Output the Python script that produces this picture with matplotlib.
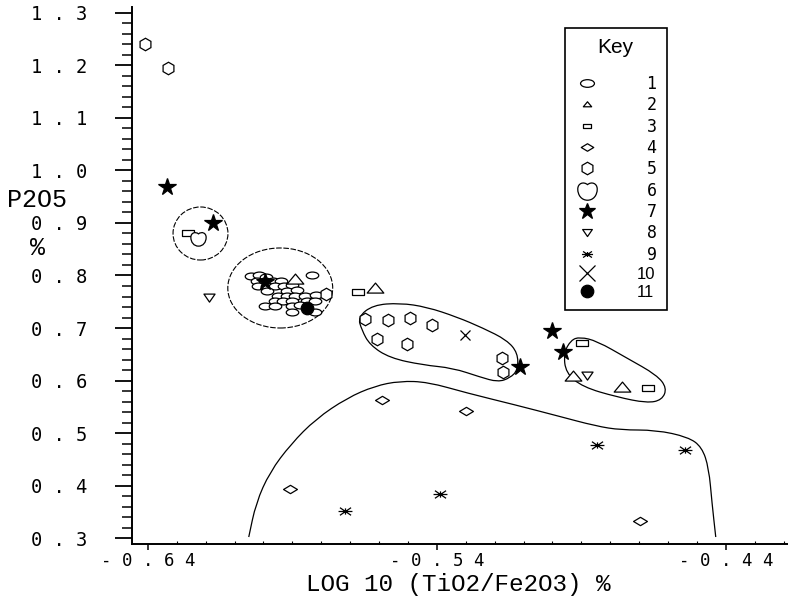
import matplotlib
matplotlib.use("Agg")
import matplotlib.pyplot as plt
from matplotlib.path import Path
from matplotlib.patches import PathPatch, Ellipse
from matplotlib.ticker import MultipleLocator, FixedLocator
from matplotlib.transforms import Affine2D

# ---- data ----
# 1: ellipses, the dense cluster
g1_x = [-0.6044, -0.6016, -0.5992, -0.5833, -0.6023, -0.5995, -0.5967, -0.5940,
        -0.6019, -0.5988, -0.5961, -0.5929, -0.5902, -0.5988, -0.5919, -0.5884,
        -0.5950, -0.5919, -0.5891, -0.5857, -0.5819, -0.5961, -0.5933, -0.5902,
        -0.5850, -0.5822, -0.5995, -0.5961, -0.5902, -0.5874, -0.5902, -0.5822]
g1_y = [0.7990, 0.8010, 0.7971, 0.8010, 0.7895, 0.7895, 0.7895, 0.7895,
        0.7800, 0.7800, 0.7800, 0.7800, 0.7819, 0.7705, 0.7705, 0.7724,
        0.7610, 0.7610, 0.7610, 0.7610, 0.7629, 0.7514, 0.7514, 0.7514,
        0.7514, 0.7514, 0.7419, 0.7419, 0.7419, 0.7438, 0.7305, 0.7305]
g2_x = [-0.5891, -0.5615, -0.4929, -0.4760]
g2_y = [0.7933, 0.7762, 0.6086, 0.5876]
g3_x = [-0.6262, -0.5673, -0.4898, -0.4670]
g3_y = [0.8810, 0.7686, 0.6714, 0.5857]
g4_x = [-0.5590, -0.5300, -0.5909, -0.4698]
g4_y = [0.5629, 0.5419, 0.3933, 0.3324]
g5_x = [-0.6410, -0.6331, -0.5649, -0.5570, -0.5493, -0.5417, -0.5608, -0.5504,
        -0.5175, -0.5172, -0.5784]
g5_y = [1.2410, 1.1952, 0.7171, 0.7152, 0.7190, 0.7057, 0.6790, 0.6695,
        0.6429, 0.6162, 0.7648]
g6_x = [-0.6227]
g6_y = [0.8714]
g7_x = [-0.6334, -0.6175, -0.5995, -0.5113, -0.5002, -0.4964]
g7_y = [0.9686, 0.9000, 0.7876, 0.6257, 0.6943, 0.6543]
g8_x = [-0.6189, -0.4881]
g8_y = [0.7590, 0.6105]
g9_x = [-0.5718, -0.5390, -0.4846, -0.4542]
g9_y = [0.3514, 0.3838, 0.4771, 0.4676]
g10_x = [-0.5303]
g10_y = [0.6867]
g11_x = [-0.5850]
g11_y = [0.7381]

group_labels = [" 1", " 2", " 3", " 4", " 5", " 6", " 7", " 8", " 9", "10", "11"]

x_ticks = [-0.64, -0.54, -0.44]
y_ticks = [0.3, 0.4, 0.5, 0.6, 0.7, 0.8, 0.9, 1.0, 1.1, 1.2, 1.3]

# hand-drawn groupings
small_circle = (-0.6218, 0.880, 0.0190, 0.101)
big_circle = (-0.5942, 0.7762, 0.0363, 0.1524)
blob1_x = [-0.5673, -0.5621, -0.5528, -0.5435, -0.5331, -0.5241, -0.5158, -0.5120,
           -0.5120, -0.5147, -0.5189, -0.5251, -0.5345, -0.5448, -0.5563, -0.5632, -0.5660]
blob1_y = [0.7210, 0.7438, 0.7476, 0.7400, 0.7210, 0.7000, 0.6771, 0.6524,
           0.6200, 0.6048, 0.5971, 0.6067, 0.6238, 0.6295, 0.6429, 0.6676, 0.6962]
blob2_x = [-0.4905, -0.4846, -0.4743, -0.4639, -0.4604, -0.4621, -0.4673, -0.4777,
           -0.4895, -0.4954, -0.4961, -0.4936]
blob2_y = [0.6829, 0.6752, 0.6429, 0.6105, 0.5857, 0.5629, 0.5571, 0.5686,
           0.5876, 0.6143, 0.6524, 0.6771]
blob3_x = [-0.6051, -0.6026, -0.5978, -0.5905, -0.5819, -0.5711, -0.5615, -0.5528,
           -0.5431, -0.5296, -0.5127, -0.4981, -0.4850, -0.4763, -0.4642, -0.4531,
           -0.4483, -0.4459, -0.4448, -0.4435]
blob3_y = [0.3019, 0.3667, 0.4257, 0.4790, 0.5267, 0.5667, 0.5895, 0.5990,
           0.5971, 0.5762, 0.5533, 0.5324, 0.5133, 0.5057, 0.5057, 0.4924,
           0.4733, 0.4333, 0.3667, 0.3019]


def smooth_path(xs, ys, closed):
    # quadratic bezier through midpoints, points act as control points
    pts = list(zip(xs, ys))
    n = len(pts)
    mid = lambda a, b: ((a[0] + b[0]) / 2, (a[1] + b[1]) / 2)
    if closed:
        verts = [mid(pts[-1], pts[0])]
        codes = [Path.MOVETO]
        for i in range(n):
            verts += [pts[i], mid(pts[i], pts[(i + 1) % n])]
            codes += [Path.CURVE3, Path.CURVE3]
    else:
        verts = [pts[0], mid(pts[0], pts[1])]
        codes = [Path.MOVETO, Path.LINETO]
        for i in range(1, n - 1):
            verts += [pts[i], mid(pts[i], pts[i + 1])]
            codes += [Path.CURVE3, Path.CURVE3]
        verts.append(pts[-1])
        codes.append(Path.LINETO)
    return Path(verts, codes)


# ---- marker shapes ----
m_ellipse = Path.unit_circle().transformed(Affine2D().scale(1.0, 0.55))
m_rect = Path([(-1, -0.55), (1, -0.55), (1, 0.55), (-1, 0.55), (-1, -0.55)], closed=True)
m_diamond = Path([(-1, 0), (0, 0.6), (1, 0), (0, -0.6), (-1, 0)], closed=True)
m_up = Path([(0, 0.65), (1, -0.55), (-1, -0.55), (0, 0.65)], closed=True)
m_down = Path([(0, -0.75), (0.9, 0.55), (-0.9, 0.55), (0, -0.75)], closed=True)
m_heart = Path([(0, -1), (-0.6, -1), (-1, -0.5), (-1, 0.15),
                (-1, 0.75), (-0.4, 0.95), (0, 0.6),
                (0.4, 0.95), (1, 0.75), (1, 0.15),
                (1, -0.5), (0.6, -1), (0, -1), (0, -1)],
               [Path.MOVETO] + [Path.CURVE4] * 12 + [Path.CLOSEPOLY])
m_aster = Path([(-1, 0), (1, 0), (-0.8, -0.55), (0.8, 0.55), (-0.8, 0.55), (0.8, -0.55),
                (0, -0.45), (0, 0.45)],
               [Path.MOVETO, Path.LINETO] * 4)

fig = plt.figure(figsize=(7.88, 5.97), dpi=100)
ax = fig.add_axes([132 / 788, 53 / 597, 656 / 788, 537 / 597])

# outlines
for c in (small_circle, big_circle):
    ax.add_patch(Ellipse((c[0], c[1]), c[2], c[3], fill=False, lw=0.8,
                         ls=(0, (5, 1.5)), color="black", zorder=1))
ax.add_patch(PathPatch(smooth_path(blob1_x, blob1_y, True), fill=False, lw=0.9, zorder=1))
ax.add_patch(PathPatch(smooth_path(blob2_x, blob2_y, True), fill=False, lw=0.9, zorder=1))
ax.add_patch(PathPatch(smooth_path(blob3_x, blob3_y, False), fill=False, lw=0.9, zorder=1))

series = [
    (g1_x, g1_y, m_ellipse, 9, "white"),
    (g2_x, g2_y, m_up, 12, "white"),
    (g3_x, g3_y, m_rect, 9, "white"),
    (g4_x, g4_y, m_diamond, 10, "white"),
    (g5_x, g5_y, "h", 9, "white"),
    (g6_x, g6_y, m_heart, 11, "white"),
    (g7_x, g7_y, "*", 13, "black"),
    (g8_x, g8_y, m_down, 8, "white"),
    (g9_x, g9_y, m_aster, 10, "none"),
    (g10_x, g10_y, "x", 7, "none"),
    (g11_x, g11_y, "o", 9, "black"),
]
for (xs, ys, mk, ms, fc), lab in zip(series, group_labels):
    ax.plot(xs, ys, ls="none", marker=mk, ms=ms, mfc=fc, mec="black",
            mew=0.9, label=lab, zorder=3)

ax.set_xlim(-0.6455, -0.4185)
ax.set_ylim(0.2886, 1.3114)

for s in ("top", "right"):
    ax.spines[s].set_visible(False)
for s in ("left", "bottom"):
    ax.spines[s].set_linewidth(1.4)

ax.xaxis.set_major_locator(FixedLocator(x_ticks))
ax.xaxis.set_minor_locator(MultipleLocator(0.01))
ax.yaxis.set_major_locator(FixedLocator(y_ticks))
ax.yaxis.set_minor_locator(MultipleLocator(0.02))
ax.set_xticklabels([" ".join(f"{v:.2f}") for v in x_ticks])
ax.set_yticklabels([" ".join(f"{v:.1f}") for v in y_ticks])

ax.tick_params(axis="y", which="major", direction="out", length=12, width=1.3, pad=20,
               labelsize=13.5)
ax.tick_params(axis="y", which="minor", direction="out", length=7, width=1.1)
ax.tick_params(axis="x", which="major", direction="out", length=4, width=1.1, pad=1.5,
               labelsize=12.5)
ax.tick_params(axis="x", which="minor", direction="in", length=2.5, width=0.8)
for t in ax.get_xticklabels() + ax.get_yticklabels():
    t.set_fontfamily("DejaVu Sans Mono")

fig.text(458 / 788, 1 - 584 / 597, "LOG 10 (TiO2/Fe2O3) %", fontfamily="Liberation Mono",
         fontsize=17.5, ha="center", va="center")
fig.text(37 / 788, 1 - 200 / 597, "P2O5", fontfamily="Liberation Mono", fontsize=18,
         ha="center", va="center")
fig.text(38 / 788, 1 - 248 / 597, "%", fontfamily="Liberation Mono", fontsize=18,
         ha="center", va="center")

leg = ax.legend(loc="upper left", bbox_to_anchor=(0.660, 0.961), title="Key",
                frameon=True, fancybox=False, edgecolor="black", framealpha=1,
                prop={"family": "DejaVu Sans Mono", "size": 12},
                title_fontproperties={"family": "Liberation Sans", "size": 15},
                handlelength=1.4, handletextpad=2.3, labelspacing=0.2,
                borderpad=0.6, borderaxespad=0, numpoints=1)
leg.get_frame().set_linewidth(1.2)
leg._legend_box.sep = 13
key_sizes = [10, 6, 6, 9, 9, 14, 12, 7, 8, 12, 9]
for h, s in zip(leg.legend_handles, key_sizes):
    h.set_markersize(s)
for t in leg.get_texts()[9:]:
    t.set_fontfamily("Liberation Sans")

fig.savefig("out.png", dpi=100)
